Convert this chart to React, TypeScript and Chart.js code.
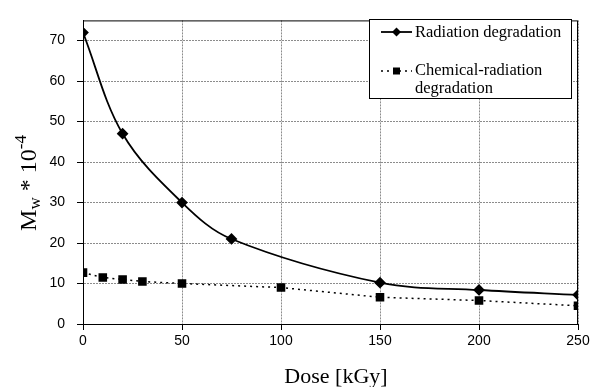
import React, { useEffect, useRef } from "react";
import { Chart, registerables } from "chart.js";

Chart.register(...registerables);

const radiationDose = [0, 20, 50, 75, 150, 200, 250];
const radiationMw = [72, 47, 30, 21, 10.2, 8.4, 7.2];
const chemicalDose = [0, 10, 20, 30, 50, 100, 150, 200, 250];
const chemicalMw = [12.7, 11.5, 11.0, 10.5, 10.0, 9.0, 6.6, 5.8, 4.5];
const radiationLabel = "Radiation degradation";
const chemicalLabel = ["Chemical-radiation", "degradation"];
const xTitle = "Dose [kGy]";

const SERIF = "'Liberation Serif', 'Times New Roman', serif";
const SANS = "'Liberation Sans', Arial, sans-serif";

const decorPlugin = {
  id: "decor",
  afterDraw(chart: any) {
    const { ctx, chartArea } = chart;
    const { left, right, top, bottom } = chartArea;
    ctx.save();
    // frame
    ctx.strokeStyle = "#000";
    ctx.lineWidth = 1;
    ctx.setLineDash([]);
    ctx.strokeRect(left + 0.5, top + 0.5, right - left - 1, bottom - top);

    // x title
    ctx.fillStyle = "#000";
    ctx.font = `22px ${SERIF}`;
    ctx.textAlign = "center";
    ctx.textBaseline = "alphabetic";
    ctx.fillText(xTitle, 336, 383);

    // y title: M_w * 10^-4
    ctx.save();
    ctx.translate(36, 183);
    ctx.rotate(-Math.PI / 2);
    const big = `24px ${SERIF}`;
    const small = `17px ${SERIF}`;
    const parts: [string, string, number][] = [
      ["M", big, 0],
      ["w", small, 4],
      [" * 10", big, 0],
      ["-4", small, -10],
    ];
    let total = 0;
    for (const [t, f] of parts) {
      ctx.font = f;
      total += ctx.measureText(t).width;
    }
    let x = -total / 2;
    ctx.textAlign = "left";
    for (const [t, f, dy] of parts) {
      ctx.font = f;
      ctx.fillText(t, x, dy);
      x += ctx.measureText(t).width;
    }
    ctx.restore();

    // legend
    const bx = 369, by = 19, bw = 202, bh = 79;
    ctx.fillStyle = "#fff";
    ctx.fillRect(bx, by, bw, bh);
    ctx.strokeStyle = "#000";
    ctx.lineWidth = 1;
    ctx.strokeRect(bx + 0.5, by + 0.5, bw, bh);

    ctx.fillStyle = "#000";
    // radiation sample
    ctx.lineWidth = 1.8;
    ctx.beginPath();
    ctx.moveTo(381, 32);
    ctx.lineTo(412, 32);
    ctx.stroke();
    ctx.beginPath();
    ctx.moveTo(396.5, 27.5);
    ctx.lineTo(401, 32);
    ctx.lineTo(396.5, 36.5);
    ctx.lineTo(392, 32);
    ctx.closePath();
    ctx.fill();
    // chemical sample
    ctx.lineWidth = 1.5;
    ctx.setLineDash([2, 4]);
    ctx.beginPath();
    ctx.moveTo(381, 71);
    ctx.lineTo(412, 71);
    ctx.stroke();
    ctx.setLineDash([]);
    ctx.fillRect(393, 67.5, 7, 7);

    ctx.font = `16.5px ${SERIF}`;
    ctx.textAlign = "left";
    ctx.textBaseline = "middle";
    ctx.fillText(radiationLabel, 415, 33);
    ctx.fillText(chemicalLabel[0], 415, 71);
    ctx.fillText(chemicalLabel[1], 415, 89);
    ctx.restore();
  },
};

export default function App() {
  const ref = useRef<HTMLCanvasElement>(null);
  useEffect(() => {
    document.body.style.margin = "0";
    const chart = new Chart(ref.current as HTMLCanvasElement, {
      type: "line",
      data: {
        datasets: [
          {
            label: radiationLabel,
            data: radiationDose.map((d, i) => ({ x: d, y: radiationMw[i] })),
            borderColor: "#000",
            backgroundColor: "#000",
            borderWidth: 1.8,
            tension: 0.35,
            pointStyle: "rectRot",
            pointRadius: 4.6,
            fill: false,
          },
          {
            label: chemicalLabel.join(" "),
            data: chemicalDose.map((d, i) => ({ x: d, y: chemicalMw[i] })),
            borderColor: "#000",
            backgroundColor: "#000",
            borderWidth: 1.5,
            borderDash: [2, 4],
            tension: 0,
            pointStyle: "rect",
            pointRadius: 5,
            fill: false,
          },
        ],
      },
      options: {
        animation: false,
        responsive: false,
        layout: { padding: { left: 0, top: 12, right: 17, bottom: 0 } },
        plugins: { legend: { display: false }, tooltip: { enabled: false } },
        scales: {
          x: {
            type: "linear",
            min: 0,
            max: 250,
            ticks: {
              stepSize: 50,
              padding: 3,
              color: "#000",
              font: { family: SANS, size: 14 },
            },
            grid: { color: "#8c8c8c", tickLength: 6, tickColor: "#000" },
            border: { color: "#000", width: 1, dash: [2, 1] },
            afterFit: (s: any) => {
              s.height = 63;
            },
          },
          y: {
            type: "linear",
            min: 0,
            max: 75,
            ticks: {
              stepSize: 10,
              padding: 12,
              color: "#000",
              font: { family: SANS, size: 14 },
            },
            afterBuildTicks: (s: any) => {
              s.ticks = s.ticks.filter((t: any) => t.value <= 70);
            },
            grid: { color: "#8c8c8c", tickLength: 6, tickColor: "#000" },
            border: { color: "#000", width: 1, dash: [2, 1] },
            afterFit: (s: any) => {
              s.width = 83;
            },
          },
        },
      },
      plugins: [decorPlugin],
    } as any);
    return () => chart.destroy();
  }, []);
  return (
    <div style={{ position: "absolute", left: 0, top: 0, width: 595, height: 387, background: "#fff" }}>
      <canvas ref={ref} width={595} height={387} />
    </div>
  );
}
